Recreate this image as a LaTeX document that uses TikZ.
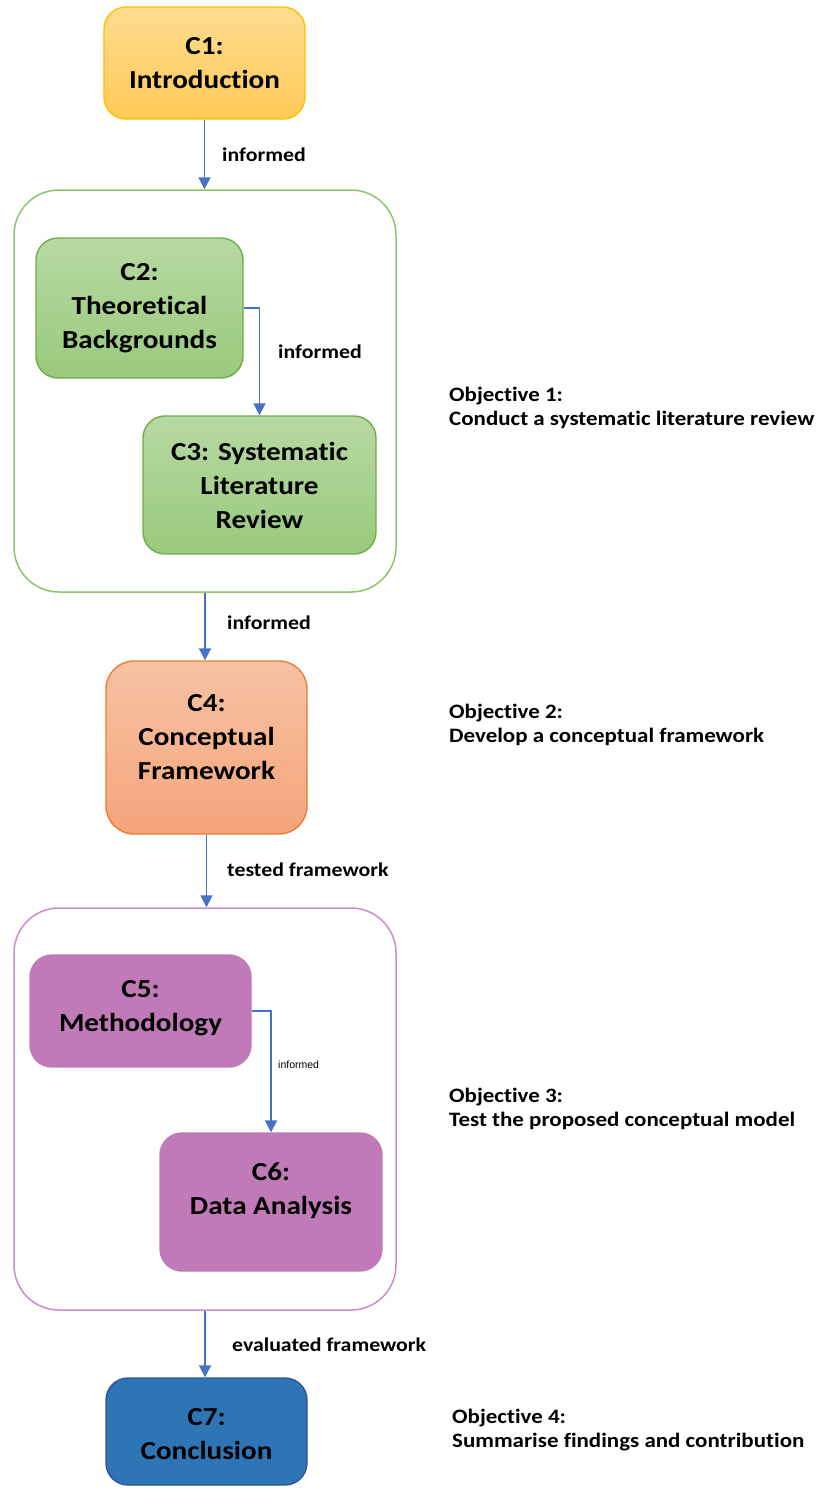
\documentclass[tikz,border=0pt]{standalone}
\usepackage{fontspec}
\setmainfont{Carlito}[FakeStretch=1.12, RawFeature={-liga;-clig;-calt}]
\newfontfamily\smallsans{Liberation Sans}
\usetikzlibrary{arrows.meta}

\definecolor{arrowblue}{HTML}{4472C4}
\definecolor{introTop}{HTML}{FFDC8F}
\definecolor{introBot}{HTML}{FFCA58}
\definecolor{introLine}{HTML}{FFC000}
\definecolor{greenTop}{HTML}{B7D9A3}
\definecolor{greenBot}{HTML}{98CA7C}
\definecolor{greenLine}{HTML}{70AD47}
\definecolor{greenFrame}{HTML}{8CC66C}
\definecolor{orangeTop}{HTML}{F7C2A3}
\definecolor{orangeBot}{HTML}{F4A57A}
\definecolor{orangeLine}{HTML}{ED7D31}
\definecolor{purpleFill}{HTML}{C07AB8}
\definecolor{purpleFrame}{HTML}{CC8ACC}
\definecolor{blueFill}{HTML}{2E75B6}
\definecolor{blueLine}{HTML}{2F5597}

\tikzset{
  chapter/.style={rectangle, rounded corners=22pt, line width=1.4pt,
    align=center, font=\fontsize{26}{34}\selectfont\bfseries, inner sep=0pt},
  frame/.style={rectangle, rounded corners=45pt, line width=1.5pt, fill=white},
  link/.style={draw=arrowblue, line width=1.8pt,
    -{Triangle[length=12pt,width=12pt]}},
  linklabel/.style={anchor=west, inner sep=0pt,
    font=\fontsize{19.5}{22}\selectfont\bfseries},
  objective/.style={anchor=west, align=left, inner sep=0pt,
    font=\fontsize{20.5}{24}\selectfont\bfseries}
}

\begin{document}
\begin{tikzpicture}[x=1pt, y=-1pt]
  \useasboundingbox (0,0) rectangle (830,1489);

  % outer frames grouping chapters
  \node[frame, draw=greenFrame, minimum width=382pt, minimum height=402pt] (g1) at (205,391) {};
  \node[frame, draw=purpleFrame, minimum width=382pt, minimum height=402pt] (g2) at (205,1109) {};

  % chapter boxes
  \node[chapter, draw=introLine, top color=introTop, bottom color=introBot,
        minimum width=201pt, minimum height=112pt] (c1) at (204.5,63) {C1:\\Introduction};
  \node[chapter, draw=greenLine, top color=greenTop, bottom color=greenBot,
        minimum width=207pt, minimum height=140pt] (c2) at (139.5,308) {C2:\\Theoretical\\Backgrounds};
  \node[chapter, draw=greenLine, top color=greenTop, bottom color=greenBot,
        minimum width=233pt, minimum height=138pt] (c3) at (259.5,485) {C3: Systematic\\Literature\\Review};
  \node[chapter, rounded corners=28pt, draw=orangeLine, top color=orangeTop, bottom color=orangeBot,
        minimum width=201pt, minimum height=173pt] (c4) at (206.5,747.5) {};
  \node[chapter] (c4text) at (206.5,737) {C4:\\Conceptual\\Framework};
  \node[chapter, draw=purpleFill, fill=purpleFill,
        minimum width=221pt, minimum height=112pt] (c5) at (140.5,1011) {};
  \node[chapter] (c5text) at (140.5,1008) {C5:\\Methodology};
  \node[chapter, draw=purpleFill, fill=purpleFill,
        minimum width=222pt, minimum height=138pt] (c6) at (271,1202) {};
  \node[chapter] (c6text) at (271,1191) {C6:\\Data Analysis};
  \node[chapter, draw=blueLine, fill=blueFill,
        minimum width=201pt, minimum height=107pt] (c7) at (206.5,1431.5) {};
  \node[chapter] (c7text) at (206.5,1434) {C7:\\Conclusion};

  % connectors
  \draw[link] (c1.south) -- (c1.south |- g1.north);
  \draw[link] (c2.east) -| (c3.north);
  \draw[link] (g1.south) -- (g1.south |- c4.north);
  \draw[link] (c4.south) -- (c4.south |- g2.north);
  \draw[link] (c5.east) -| (c6.north);
  \draw[link] (g2.south) -- (g2.south |- c7.north);

  % connector labels
  \node[linklabel] (l1) at (222,155) {informed};
  \node[linklabel] (l2) at (278,352) {informed};
  \node[linklabel] (l3) at (227,623) {informed};
  \node[linklabel] (l4) at (227,870) {tested framework};
  \node[anchor=west, inner sep=0pt, font=\smallsans\fontsize{10.5}{12}\selectfont] (l5) at (278,1065) {informed};
  \node[linklabel] (l6) at (232,1345) {evaluated framework};

  % objectives
  \node[objective] (o1) at (449,408) {Objective 1:\\Conduct a systematic literature review};
  \node[objective] (o2) at (449,725) {Objective 2:\\Develop a conceptual framework};
  \node[objective] (o3) at (449,1109) {Objective 3:\\Test the proposed conceptual model};
  \node[objective] (o4) at (452,1430) {Objective 4:\\Summarise findings and contribution};
\end{tikzpicture}
\end{document}
